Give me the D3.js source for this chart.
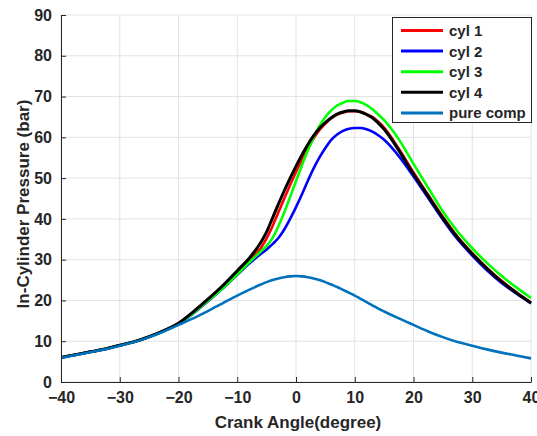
<!DOCTYPE html>
<html>
<head>
<meta charset="utf-8">
<script src="https://cdn.jsdelivr.net/npm/d3@7"></script>
<style>
  html, body { margin: 0; padding: 0; background: #fff; }
  svg { display: block; }
  text { font-family: Arial, "Liberation Sans", sans-serif; font-weight: bold; fill: #262626; }
</style>
</head>
<body>
<svg id="chart" width="537" height="436"></svg>
<script>
// ---- data ----
const angles = [-40,-37.5,-35,-32.5,-30,-27.5,-25,-22.5,-20,-17.5,-15,-12.5,-10,-8,-6,-5,-4,-3,-2,-1,0,1,2,3,4,5,6,7,8,9,10,11,12,13,14,15,17.5,20,22.5,25,27.5,30,32.5,35,37.5,40];

const cyl1 = [6.0,6.7,7.4,8.1,9.0,9.9,11.1,12.6,14.4,17.1,20.1,23.4,27.0,29.8,32.8,35.2,38.2,41.6,45.0,48.3,51.5,54.5,57.2,59.7,61.8,63.4,64.7,65.6,66.1,66.4,66.4,66.2,65.7,65.0,63.8,62.4,57.2,51.4,45.9,40.5,35.6,31.6,28.0,24.8,22.0,19.5];
const cyl2 = [6.0,6.7,7.4,8.1,9.0,9.9,11.1,12.5,14.2,16.8,19.8,22.9,26.3,29.0,31.4,32.5,33.8,35.3,37.4,40.0,42.9,46.0,49.3,52.4,55.1,57.4,59.4,60.7,61.6,62.1,62.3,62.3,62.0,61.4,60.5,59.4,55.4,50.4,45.1,39.8,35.0,31.0,27.4,24.3,21.7,19.3];
const cyl3 = [6.0,6.7,7.4,8.1,9.0,9.9,11.1,12.5,14.3,16.9,19.9,23.0,26.4,29.3,32.0,33.4,35.3,38.2,41.6,45.4,49.3,53.1,56.7,60.0,62.8,65.0,66.6,67.8,68.5,68.9,68.9,68.6,67.9,66.9,65.6,64.2,59.5,53.5,47.6,41.8,36.9,32.8,29.2,26.0,23.2,20.6];
const cyl4 = [6.0,6.7,7.4,8.1,9.0,9.9,11.1,12.6,14.4,17.2,20.3,23.6,27.3,30.3,34.2,36.8,40.2,43.6,46.9,50.0,52.9,55.7,58.2,60.4,62.2,63.6,64.8,65.7,66.2,66.5,66.5,66.2,65.6,64.8,63.5,62.0,56.8,51.0,45.6,40.2,35.4,31.4,27.8,24.6,21.9,19.4];
const pureComp = [5.9,6.6,7.3,8.0,8.9,9.8,11.0,12.4,14.0,15.6,17.4,19.3,21.2,22.6,23.9,24.5,25.0,25.4,25.7,25.9,26.0,25.9,25.7,25.4,25.0,24.5,23.9,23.3,22.6,21.9,21.2,20.4,19.6,18.8,18.0,17.3,15.6,14.0,12.4,11.0,9.8,8.9,8.0,7.2,6.5,5.8];

const seriesNames = ["cyl 1","cyl 2","cyl 3","cyl 4","pure comp"];
const seriesColors = ["#FF0000","#0000FF","#00FF00","#000000","#0072BD"];
const seriesValues = [cyl1, cyl2, cyl3, cyl4, pureComp];

const xTicks = [-40,-30,-20,-10,0,10,20,30,40];
const yTicks = [0,10,20,30,40,50,60,70,80,90];
const xTitle = "Crank Angle(degree)";
const yTitle = "In-Cylinder Pressure (bar)";

// ---- layout ----
const svg = d3.select("#chart");
const L = 61, R = 531, T = 15, B = 382;
const x = d3.scaleLinear().domain([-40, 40]).range([L, R]);
const y = d3.scaleLinear().domain([0, 90]).range([B, T]);

// grid
const grid = svg.append("g");
grid.selectAll("line.gx").data(xTicks).join("line")
  .attr("x1", d => x(d)).attr("x2", d => x(d)).attr("y1", T).attr("y2", B)
  .attr("stroke", "#e3e3e3").attr("stroke-width", 1);
grid.selectAll("line.gy").data(yTicks).join("line")
  .attr("x1", L).attr("x2", R).attr("y1", d => y(d)).attr("y2", d => y(d))
  .attr("stroke", "#e3e3e3").attr("stroke-width", 1);

// lines
const clip = svg.append("clipPath").attr("id", "clip").append("rect")
  .attr("x", L).attr("y", T - 2).attr("width", R - L + 2).attr("height", B - T + 2);
const line = d3.line().x(d => x(d[0])).y(d => y(d[1])).curve(d3.curveMonotoneX);
const lg = svg.append("g").attr("clip-path", "url(#clip)");
seriesValues.forEach((vals, i) => {
  lg.append("path")
    .attr("d", line(angles.map((a, j) => [a, vals[j]])))
    .attr("fill", "none")
    .attr("stroke", seriesColors[i])
    .attr("stroke-width", i === 3 ? 3 : 2.6)
    .attr("stroke-linejoin", "round");
});

// axes
const xAxis = d3.axisBottom(x).tickValues(xTicks).tickSizeInner(-5).tickSizeOuter(0).tickPadding(10);
const yAxis = d3.axisLeft(y).tickValues(yTicks).tickSizeInner(-5).tickSizeOuter(0).tickPadding(9);
const gx = svg.append("g").attr("transform", `translate(0,${B})`).call(xAxis);
const gy = svg.append("g").attr("transform", `translate(${L},0)`).call(yAxis);
[gx, gy].forEach(g => {
  g.select(".domain").attr("stroke", "#262626").attr("stroke-width", 1);
  g.selectAll(".tick line").attr("stroke", "#262626");
  g.selectAll(".tick text").attr("font-size", 16).attr("font-family", "Arial, 'Liberation Sans', sans-serif")
    .attr("font-weight", "bold").attr("fill", "#262626");
});

// titles
svg.append("text").attr("x", 298).attr("y", 428).attr("text-anchor", "middle")
  .attr("font-size", 17).text(xTitle);
svg.append("text").attr("transform", "translate(29,204) rotate(-90)").attr("text-anchor", "middle")
  .attr("font-size", 17).text(yTitle);

// legend
const leg = svg.append("g");
leg.append("rect").attr("x", 392.5).attr("y", 17.5).attr("width", 139).attr("height", 105)
  .attr("fill", "#fff").attr("stroke", "#262626").attr("stroke-width", 1);
seriesNames.forEach((n, i) => {
  const cy = 30.5 + i * 20.6;
  leg.append("line").attr("x1", 401).attr("x2", 443).attr("y1", cy).attr("y2", cy)
    .attr("stroke", seriesColors[i]).attr("stroke-width", 3);
  leg.append("text").attr("x", 449).attr("y", cy + 5.5).attr("font-size", 15)
    .attr("fill", "#000").text(n);
});
</script>
</body>
</html>
